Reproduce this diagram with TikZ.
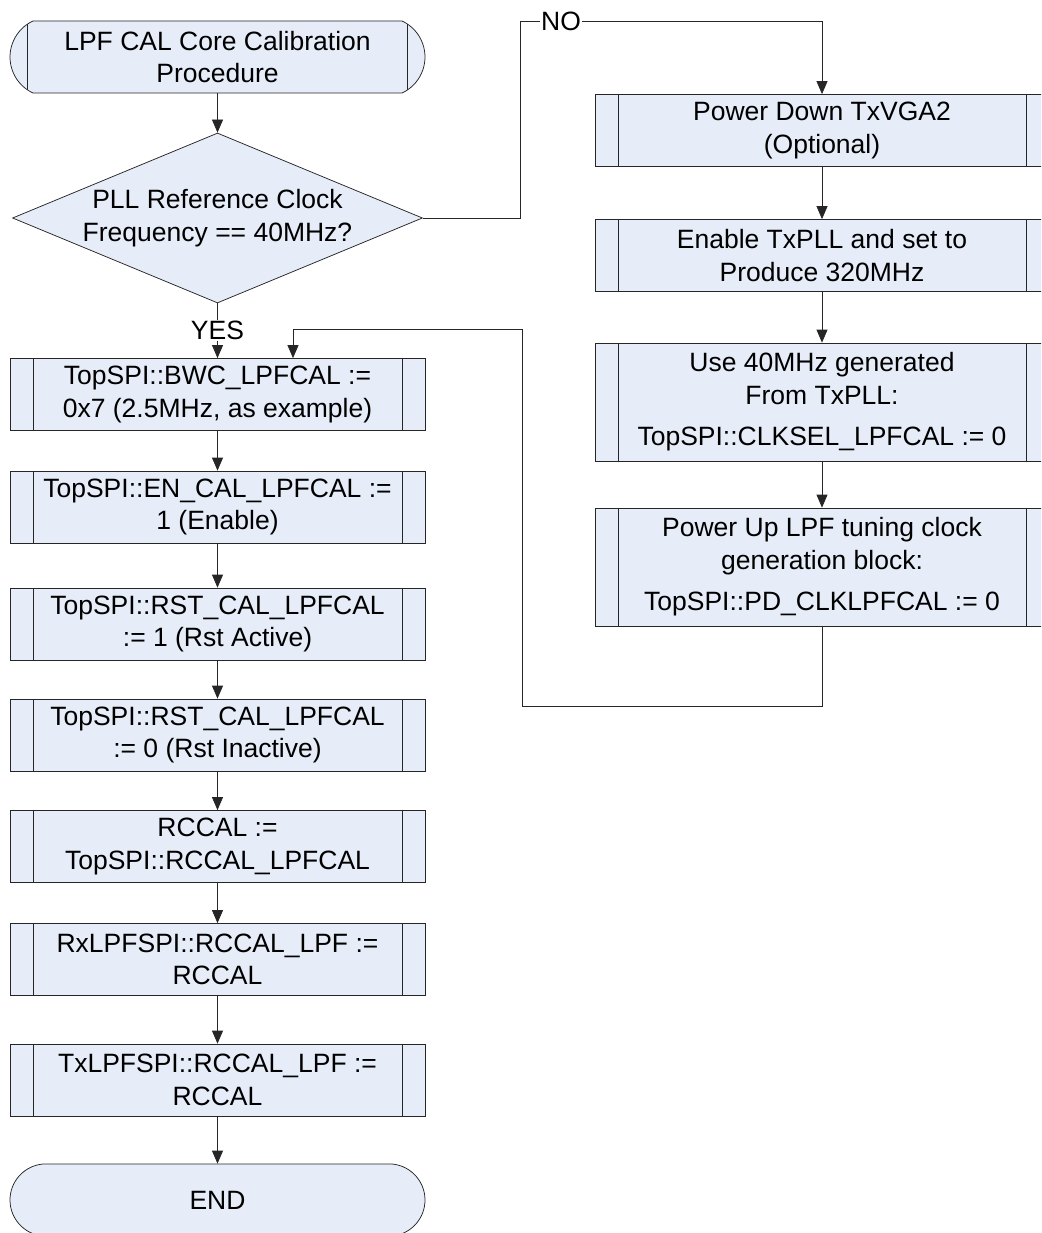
\documentclass[tikz,border=0pt]{standalone}
\usepackage{fontspec}
\setmainfont{Liberation Sans}
\usetikzlibrary{arrows.meta,shapes.geometric,shapes.misc}
\definecolor{calfill}{RGB}{230,237,248}
\tikzset{
  edgeline/.style={draw=black!85,line width=0.75pt},
  flowarrow/.style={edgeline,-{Triangle[length=13pt,width=11pt]}},
  sidebars/.style={path picture={\draw[edgeline]
      ([xshift=#1]path picture bounding box.north west) -- ([xshift=#1]path picture bounding box.south west)
      ([xshift=-#1]path picture bounding box.north east) -- ([xshift=-#1]path picture bounding box.south east);}},
  procbox/.style={rectangle,edgeline,fill=calfill,align=center,inner sep=0pt,minimum height=72pt,sidebars=23pt},
  leftbox/.style={procbox,minimum width=415pt},
  rightbox/.style={procbox,minimum width=454pt},
  termbox/.style={rounded rectangle,rounded rectangle arc length=#1,edgeline,fill=calfill,align=center,
    inner sep=0pt,minimum width=415pt,minimum height=72pt},
  decbox/.style={diamond,edgeline,fill=calfill,align=center,inner sep=0pt,aspect=2.41,
    minimum width=410pt,minimum height=170pt},
  lbl/.style={fill=white,inner sep=1pt},
}
\begin{document}
\begin{tikzpicture}[x=1pt,y=-1pt,font=\fontsize{26.5pt}{32.5pt}\selectfont]
  \useasboundingbox (0,0) rectangle (1041,1233);
  \clip (0,0) rectangle (1041,1233);
  \node[termbox=130,sidebars=23pt] (start) at (217.5,57) {LPF CAL Core Calibration\\Procedure};
  \node[decbox] (refclk) at (217.5,218) {PLL Reference Clock\\Frequency == 40MHz?};
  \node[leftbox] (bwc) at (217.5,394.5) {TopSPI::BWC\_LPFCAL :=\\0x7 (2.5MHz, as example)};
  \node[leftbox] (encal) at (217.5,507) {TopSPI::EN\_CAL\_LPFCAL :=\\1 (Enable)};
  \node[leftbox] (rstact) at (217.5,624) {TopSPI::RST\_CAL\_LPFCAL\\:= 1 (Rst Active)};
  \node[leftbox] (rstinact) at (217.5,735) {TopSPI::RST\_CAL\_LPFCAL\\:= 0 (Rst Inactive)};
  \node[leftbox] (rccal) at (217.5,846.5) {RCCAL :=\\TopSPI::RCCAL\_LPFCAL};
  \node[leftbox] (rxlpf) at (217.5,959.5) {RxLPFSPI::RCCAL\_LPF :=\\RCCAL};
  \node[leftbox] (txlpf) at (217.5,1080) {TxLPFSPI::RCCAL\_LPF :=\\RCCAL};
  \node[termbox=170] (finish) at (217.5,1200) {END};
  \node[rightbox] (txvga) at (822,130.5) {Power Down TxVGA2\\(Optional)};
  \node[rightbox] (txpll) at (822,255.5) {Enable TxPLL and set to\\Produce 320MHz};
  \node[rightbox,minimum height=118pt] (clksel) at (822,402) {Use 40MHz generated\\From TxPLL:\\[9pt]TopSPI::CLKSEL\_LPFCAL := 0};
  \node[rightbox,minimum height=118pt] (pdclk) at (822,567) {Power Up LPF tuning clock\\generation block:\\[9pt]TopSPI::PD\_CLKLPFCAL := 0};
  \coordinate (nobend) at (520,21);
  \coordinate (loopbot) at (522,706);
  \coordinate (looptop) at (293,329);
  \foreach \a/\b in {start/refclk,bwc/encal,encal/rstact,rstact/rstinact,rstinact/rccal,rccal/rxlpf,rxlpf/txlpf,txlpf/finish,txvga/txpll,txpll/clksel,clksel/pdclk}
    \draw[flowarrow] (\a.south) -- (\b.north);
  \draw[flowarrow] (refclk.south) -- node[lbl] (yeslbl) {YES} (bwc.north);
  \draw[flowarrow] (refclk.east) -| (nobend) -| (txvga.north);
  \node[lbl] (nolbl) at (561,21) {NO};
  \draw[flowarrow] (pdclk.south) |- (loopbot) |- (looptop) -- (looptop |- bwc.north);
\end{tikzpicture}
\end{document}
